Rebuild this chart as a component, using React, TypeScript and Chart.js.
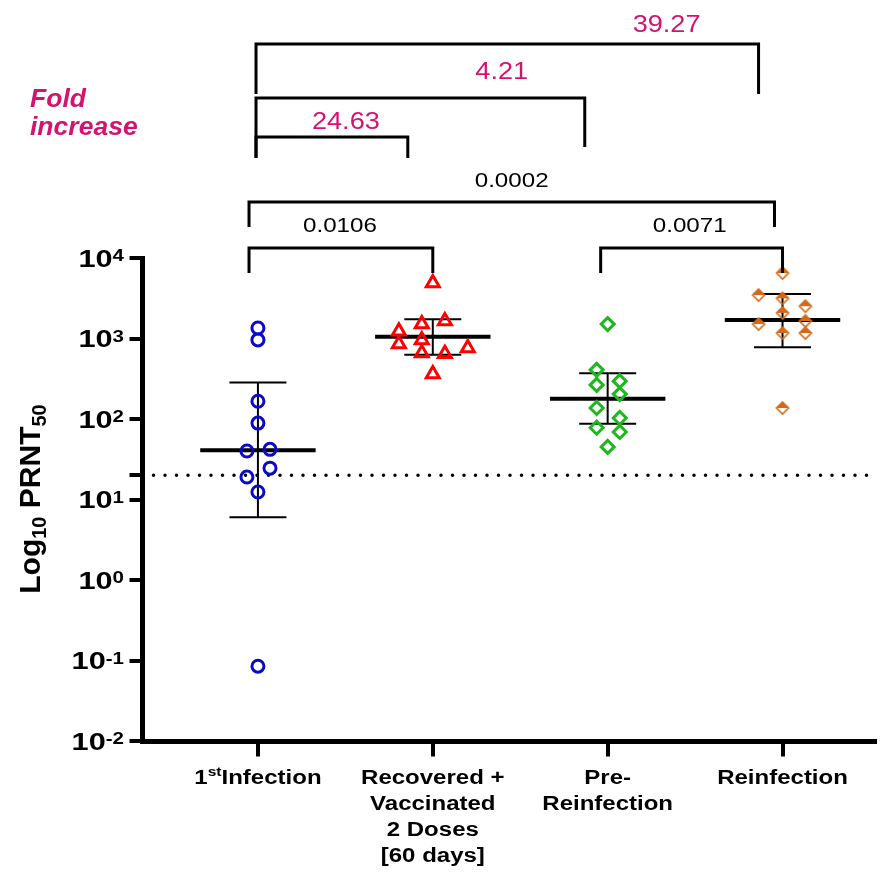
import React, { useEffect, useRef } from 'react';
import { Chart, registerables } from 'chart.js';

Chart.register(...registerables);

// ---------- data ----------
const categoryLines: string[][] = [
  ['1^{st}Infection'],
  ['Recovered +', 'Vaccinated', '2 Doses', '[60 days]'],
  ['Pre-', 'Reinfection'],
  ['Reinfection'],
];
const groupPositions = [1, 2, 3, 4];

const infection1Values = [1350, 960, 166, 89, 40, 42, 24.5, 19, 12.4, 0.085];
const infection1Jitter = [0, 0, 0, 0, -0.063, 0.069, 0.069, -0.063, 0, 0];

const recoveredValues = [4900, 1230, 1510, 1650, 855, 960, 660, 645, 760, 363];
const recoveredJitter = [0, -0.194, -0.063, 0.069, -0.194, -0.063, -0.063, 0.069, 0.2, 0];

const preReinfValues = [1510, 408, 265, 295, 204, 137, 103, 78, 69, 45];
const preReinfJitter = [0, -0.063, -0.063, 0.069, 0.069, -0.063, 0.069, -0.063, 0.069, 0];

const reinfValues = [6500, 3470, 3160, 2520, 2080, 1510, 1650, 1170, 1170, 137];
const reinfJitter = [0, -0.137, 0, 0.131, 0, -0.137, 0.131, 0, 0.131, 0];

const geoMeans = [41, 1050, 178, 1700];
const ciLow = [6.0, 630, 87, 780];
const ciHigh = [284, 1740, 371, 3560];

const detectionLimit = 20;
const yTickValues = [0.01, 0.1, 1, 10, 100, 1000, 10000];
const yTickExponents = ['-2', '-1', '0', '1', '2', '3', '4'];

const pValueLabels = ['0.0106', '0.0071', '0.0002'];
const foldLabels = ['24.63', '4.21', '39.27'];

// ---------- styling / layout ----------
const MAGENTA = '#D4136E';
const BLUE = '#0A0AC8';
const RED = '#FF0000';
const GREEN = '#1DB81D';
const ORANGE = '#D4691A';
const X_MIN = 0.337;
const X_MAX = 4.526;
const MEAN_HALF = 0.33;
const CAP_HALF = 0.163;

// bracket geometry: x in axis units, y in pixels
const pBrackets = [
  { label: pValueLabels[0], x1: 0.949, x2: 2.0, top: 248, leg1: 273, leg2: 273, tx: 1.469, ty: 232 },
  { label: pValueLabels[1], x1: 2.96, x2: 4.0, top: 248, leg1: 273, leg2: 273, tx: 3.469, ty: 232 },
  { label: pValueLabels[2], x1: 0.949, x2: 3.954, top: 202, leg1: 227, leg2: 227, tx: 2.451, ty: 187 },
];
const foldBrackets = [
  { label: foldLabels[0], x1: 0.989, x2: 1.857, top: 137, leg1: 158, leg2: 158, tx: 1.503, ty: 129 },
  { label: foldLabels[1], x1: 0.989, x2: 2.869, top: 98, leg1: 158, leg2: 147, tx: 2.394, ty: 79 },
  { label: foldLabels[2], x1: 0.989, x2: 3.863, top: 44, leg1: 94, leg2: 94, tx: 3.337, ty: 32 },
];

const FONT = '"Liberation Sans", Arial, Helvetica, sans-serif';

type Part = { t: string; font: string; dy: number };

function drawParts(ctx: CanvasRenderingContext2D, parts: Part[], x: number, y: number, align: string, sx: number) {
  let total = 0;
  const widths = parts.map((p) => {
    ctx.font = p.font;
    const w = ctx.measureText(p.t).width * sx;
    total += w;
    return w;
  });
  let cur = align === 'center' ? x - total / 2 : align === 'right' ? x - total : x;
  parts.forEach((p, i) => {
    ctx.save();
    ctx.translate(cur, y + p.dy);
    ctx.scale(sx, 1);
    ctx.font = p.font;
    ctx.textAlign = 'left';
    ctx.textBaseline = 'alphabetic';
    ctx.fillText(p.t, 0, 0);
    ctx.restore();
    cur += widths[i];
  });
}

function parseSup(line: string, font: string, supFont: string, supDy: number): Part[] {
  const parts: Part[] = [];
  const re = /\^\{([^}]*)\}/g;
  let last = 0;
  let m: RegExpExecArray | null;
  while ((m = re.exec(line))) {
    if (m.index > last) parts.push({ t: line.slice(last, m.index), font, dy: 0 });
    parts.push({ t: m[1], font: supFont, dy: supDy });
    last = m.index + m[0].length;
  }
  if (last < line.length) parts.push({ t: line.slice(last), font, dy: 0 });
  return parts;
}

function makeHalfDiamond(color: string): HTMLCanvasElement {
  const c = document.createElement('canvas');
  c.width = 16;
  c.height = 16;
  const g = c.getContext('2d')!;
  const cx = 8, cy = 8, r = 6;
  g.fillStyle = color;
  g.beginPath();
  g.moveTo(cx - r, cy);
  g.lineTo(cx, cy - r);
  g.lineTo(cx + r, cy);
  g.closePath();
  g.fill();
  g.strokeStyle = color;
  g.lineWidth = 1.6;
  g.beginPath();
  g.moveTo(cx, cy - r);
  g.lineTo(cx + r, cy);
  g.lineTo(cx, cy + r);
  g.lineTo(cx - r, cy);
  g.closePath();
  g.stroke();
  return c;
}

const annotationPlugin = {
  id: 'annotations',
  afterDraw(chart: any) {
    const ctx: CanvasRenderingContext2D = chart.ctx;
    const xs = chart.scales.x;
    const ys = chart.scales.y;
    const area = chart.chartArea;
    ctx.save();
    ctx.fillStyle = '#000';

    // y tick labels 10^k
    yTickValues.forEach((v, i) => {
      const py = ys.getPixelForValue(v);
      drawParts(
        ctx,
        [
          { t: '10', font: `bold 24px ${FONT}`, dy: 8.5 },
          { t: yTickExponents[i], font: `bold 16px ${FONT}`, dy: 3 },
        ],
        area.left - 18,
        py,
        'right',
        1.28
      );
    });

    // y title
    ctx.save();
    ctx.translate(40, 499);
    ctx.rotate(-Math.PI / 2);
    drawParts(
      ctx,
      [
        { t: 'Log', font: `bold 30px ${FONT}`, dy: 0 },
        { t: '10', font: `bold 20px ${FONT}`, dy: 6 },
        { t: ' PRNT', font: `bold 30px ${FONT}`, dy: 0 },
        { t: '50', font: `bold 20px ${FONT}`, dy: 6 },
      ],
      0,
      0,
      'center',
      1
    );
    ctx.restore();

    // x category labels
    categoryLines.forEach((lines, gi) => {
      const px = xs.getPixelForValue(groupPositions[gi]);
      lines.forEach((line, li) => {
        const parts = parseSup(line, `bold 20px ${FONT}`, `bold 13px ${FONT}`, -8);
        drawParts(ctx, parts, px, area.bottom + 43 + li * 26, 'center', 1.2);
      });
    });

    // brackets
    const drawBracket = (b: any) => {
      const x1 = xs.getPixelForValue(b.x1);
      const x2 = xs.getPixelForValue(b.x2);
      ctx.beginPath();
      ctx.moveTo(x1, b.leg1);
      ctx.lineTo(x1, b.top);
      ctx.lineTo(x2, b.top);
      ctx.lineTo(x2, b.leg2);
      ctx.stroke();
    };
    ctx.strokeStyle = '#000';
    ctx.lineWidth = 3;
    ctx.lineJoin = 'miter';
    ctx.lineCap = 'butt';
    pBrackets.forEach((b) => {
      drawBracket(b);
      ctx.fillStyle = '#000';
      drawParts(ctx, [{ t: b.label, font: `21px ${FONT}`, dy: 0 }], xs.getPixelForValue(b.tx), b.ty, 'center', 1.15);
    });
    foldBrackets.forEach((b) => {
      drawBracket(b);
      ctx.fillStyle = MAGENTA;
      drawParts(ctx, [{ t: b.label, font: `24px ${FONT}`, dy: 0 }], xs.getPixelForValue(b.tx), b.ty, 'center', 1.13);
    });

    // fold increase label
    ctx.fillStyle = MAGENTA;
    drawParts(ctx, [{ t: 'Fold', font: `italic bold 26px ${FONT}`, dy: 0 }], 30, 107, 'left', 1.02);
    drawParts(ctx, [{ t: 'increase', font: `italic bold 26px ${FONT}`, dy: 0 }], 30, 135, 'left', 1.02);

    ctx.restore();
  },
};

function pts(values: number[], jitter: number[], g: number) {
  return values.map((v, i) => ({ x: g + jitter[i], y: v }));
}

export default function App() {
  const ref = useRef<HTMLCanvasElement | null>(null);

  useEffect(() => {
    if (!ref.current) return;
    const halfDiamond = makeHalfDiamond(ORANGE);

    const pointSets: any[] = [
      {
        data: pts(infection1Values, infection1Jitter, groupPositions[0]),
        pointStyle: 'circle',
        pointRadius: 6,
        pointBorderWidth: 3,
        pointBorderColor: BLUE,
        pointBackgroundColor: 'rgba(0,0,0,0)',
      },
      {
        data: pts(recoveredValues, recoveredJitter, groupPositions[1]),
        pointStyle: 'triangle',
        pointRadius: 7.5,
        pointBorderWidth: 3,
        pointBorderColor: RED,
        pointBackgroundColor: 'rgba(0,0,0,0)',
      },
      {
        data: pts(preReinfValues, preReinfJitter, groupPositions[2]),
        pointStyle: 'rectRot',
        pointRadius: 6.5,
        pointBorderWidth: 3,
        pointBorderColor: GREEN,
        pointBackgroundColor: 'rgba(0,0,0,0)',
      },
      {
        data: pts(reinfValues, reinfJitter, groupPositions[3]),
        pointStyle: halfDiamond,
        pointRadius: 7,
        pointBorderWidth: 0,
        pointBorderColor: ORANGE,
        pointBackgroundColor: ORANGE,
      },
    ].map((d) => ({ ...d, type: 'scatter', showLine: false, order: 0 }));

    const lineSet = (data: any[], width: number, extra: any = {}) => ({
      type: 'line',
      data,
      showLine: true,
      borderColor: '#000',
      borderWidth: width,
      pointRadius: 0,
      fill: false,
      order: 1,
      ...extra,
    });

    const lineSets: any[] = [];
    groupPositions.forEach((g, i) => {
      lineSets.push(lineSet([{ x: g - MEAN_HALF, y: geoMeans[i] }, { x: g + MEAN_HALF, y: geoMeans[i] }], 4));
      lineSets.push(lineSet([{ x: g, y: ciLow[i] }, { x: g, y: ciHigh[i] }], 2));
      lineSets.push(lineSet([{ x: g - CAP_HALF, y: ciLow[i] }, { x: g + CAP_HALF, y: ciLow[i] }], 2));
      lineSets.push(lineSet([{ x: g - CAP_HALF, y: ciHigh[i] }, { x: g + CAP_HALF, y: ciHigh[i] }], 2));
    });
    lineSets.push(
      lineSet([{ x: X_MIN, y: detectionLimit }, { x: X_MAX, y: detectionLimit }], 3.5, {
        borderDash: [0, 11.5],
        borderCapStyle: 'round',
        order: 2,
      })
    );

    const chart = new Chart(ref.current, {
      type: 'scatter',
      data: { datasets: [...pointSets, ...lineSets] },
      options: {
        animation: false,
        responsive: false,
        devicePixelRatio: 1,
        layout: { padding: { top: 258, left: 0, right: 3, bottom: 0 } },
        plugins: { legend: { display: false }, tooltip: { enabled: false } },
        events: [],
        scales: {
          x: {
            type: 'linear',
            min: X_MIN,
            max: X_MAX,
            afterBuildTicks: (s: any) => {
              s.ticks = groupPositions.map((v) => ({ value: v }));
            },
            afterFit: (s: any) => {
              s.height = 131;
            },
            ticks: { display: false },
            grid: {
              display: true,
              drawOnChartArea: false,
              drawTicks: true,
              tickLength: 15.5,
              tickWidth: 4,
              tickColor: '#000',
              color: '#000',
              lineWidth: 4,
            },
            border: { display: true, width: 5, color: '#000' },
          },
          y: {
            type: 'logarithmic',
            min: 0.01,
            max: 10000,
            afterBuildTicks: (s: any) => {
              s.ticks = [...yTickValues, detectionLimit].map((v) => ({ value: v }));
            },
            afterFit: (s: any) => {
              s.width = 142;
            },
            ticks: { display: false },
            grid: {
              display: true,
              drawOnChartArea: false,
              drawTicks: true,
              tickLength: 12.5,
              tickWidth: 4,
              tickColor: '#000',
              color: '#000',
              lineWidth: 4,
            },
            border: { display: true, width: 5, color: '#000' },
          },
        },
      } as any,
      plugins: [annotationPlugin],
    });
    return () => chart.destroy();
  }, []);

  return (
    <div style={{ position: 'absolute', left: 0, top: 0, width: 885, height: 872, background: '#fff' }}>
      <canvas ref={ref} width={885} height={872} style={{ display: 'block' }} />
    </div>
  );
}
